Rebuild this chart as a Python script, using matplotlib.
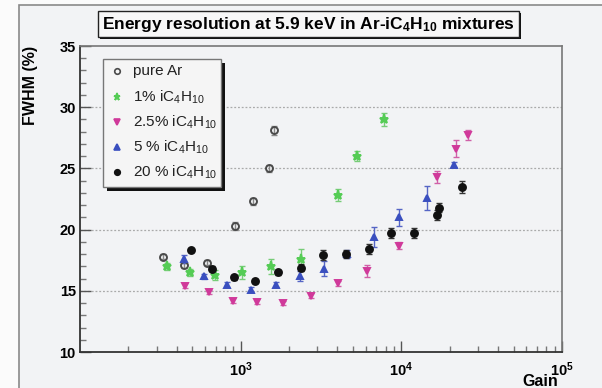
import numpy as np
import matplotlib.pyplot as plt
from matplotlib.patches import Rectangle
from matplotlib.ticker import FixedLocator, NullFormatter, MultipleLocator

plt.rcParams['font.family'] = ['Liberation Sans', 'DejaVu Sans']
plt.rcParams['mathtext.fontset'] = 'custom'
plt.rcParams['mathtext.rm'] = 'Liberation Sans'
plt.rcParams['mathtext.bf'] = 'Liberation Sans:bold'
plt.rcParams['mathtext.default'] = 'regular'

# pure Ar
ar_gain = [328, 445, 615, 918, 1187, 1493, 1603]
ar_fwhm = [17.8, 17.1, 17.3, 20.3, 22.3, 25.0, 28.1]
ar_err = [0.2, 0.2, 0.2, 0.3, 0.3, 0.3, 0.4]

# 1% iC4H10
g1_gain = [347, 484, 692, 1024, 1536, 2359, 4045, 5309, 7772]
g1_fwhm = [17.0, 16.5, 16.3, 16.5, 17.0, 17.6, 22.8, 26.0, 29.0]
g1_err = [0.3, 0.3, 0.4, 0.5, 0.6, 0.8, 0.5, 0.4, 0.5]

# 2.5% iC4H10
g25_gain = [449, 635, 901, 1270, 1841, 2723, 4024, 6127, 9718, 16680, 21980, 26180]
g25_fwhm = [15.4, 14.9, 14.2, 14.1, 14.0, 14.6, 15.6, 16.6, 18.7, 24.3, 26.6, 27.7]
g25_err = [0.2, 0.2, 0.2, 0.2, 0.2, 0.2, 0.2, 0.5, 0.3, 0.5, 0.7, 0.4]

# 5% iC4H10
g5_gain = [441, 592, 826, 1165, 1650, 2325, 3290, 4604, 6730, 9718, 14450, 21420]
g5_fwhm = [17.6, 16.2, 15.5, 15.1, 15.5, 16.2, 16.8, 18.0, 19.4, 21.0, 22.6, 25.3]
g5_err = [0.3, 0.2, 0.2, 0.2, 0.2, 0.4, 0.6, 0.3, 0.8, 0.7, 1.0, 0.2]

# 20% iC4H10
g20_gain = [489, 667, 909, 1227, 1705, 2359, 3262, 4535, 6267, 8629, 12050, 16680, 17060, 23830]
g20_fwhm = [18.3, 16.8, 16.1, 15.8, 16.5, 16.9, 17.9, 18.0, 18.4, 19.7, 19.7, 21.2, 21.8, 23.5]
g20_err = [0.1, 0.2, 0.2, 0.2, 0.2, 0.3, 0.4, 0.3, 0.4, 0.4, 0.4, 0.4, 0.4, 0.5]

W, H = 602, 388
bg = '#f2f3f5'
fig = plt.figure(figsize=(W / 100, H / 100), dpi=100, facecolor='#fbfbfb')

# canvas frame (behind everything)
fig.patches.append(Rectangle((18.5 / W, -0.1), 1.2, 1 - 5 / H + 0.1,
                             transform=fig.transFigure, facecolor=bg,
                             edgecolor='#8a8a8a', linewidth=1.2, zorder=-10))

ax = fig.add_axes([80 / W, 1 - 352 / H, (562 - 80) / W, (352 - 46) / H])
ax.set_facecolor(bg)
ax.set_xscale('log')
ax.set_xlim(100, 1e5)
ax.set_ylim(10, 35)

series = [
    (ar_gain, ar_fwhm, ar_err, 'o', 'none', '#4a4a4a', '#888888', 5.0, 'pure Ar'),
    (g1_gain, g1_fwhm, g1_err, '*', '#55cc55', '#55cc55', '#77cc77', 6.5, '1% iC$_4$H$_{10}$'),
    (g25_gain, g25_fwhm, g25_err, 'v', '#d0399a', '#d0399a', '#d060a8', 5.0, '2.5% iC$_4$H$_{10}$'),
    (g5_gain, g5_fwhm, g5_err, '^', '#3a4fbf', '#3a4fbf', '#5565c5', 5.0, '5 % iC$_4$H$_{10}$'),
    (g20_gain, g20_fwhm, g20_err, 'o', '#111111', '#111111', '#333333', 5.0, '20 % iC$_4$H$_{10}$'),
]
for gx, gy, ge, m, fc, ec, errc, ms, lab in series:
    ax.errorbar(gx, gy, yerr=ge, fmt='none', ecolor=errc, elinewidth=1.0,
                capsize=2.2, capthick=1.0, zorder=3)
    ax.plot(gx, gy, linestyle='none', marker=m, markersize=ms,
            markerfacecolor=fc, markeredgecolor=ec, markeredgewidth=1.4,
            label=lab, zorder=4)

# grid
for yv in [15, 20, 25, 30]:
    ax.axhline(yv, color='#aaaaaa', linestyle=(0, (1.5, 1.5)), linewidth=0.9, zorder=1)

for side in ['left', 'bottom']:
    ax.spines[side].set_color('#333333')
    ax.spines[side].set_linewidth(1.3)
for side in ['right', 'top']:
    ax.spines[side].set_color('#777777')
    ax.spines[side].set_linewidth(1.2)

ax.yaxis.set_minor_locator(MultipleLocator(1))
ax.set_yticks([10, 15, 20, 25, 30, 35])
ax.set_yticklabels(['10', '15', '20', '25', '30', '35'], fontweight='bold', fontsize=10.5)
ax.set_xticks([1e3, 1e4, 1e5])
ax.set_xticklabels([r'$\mathbf{10^{3}}$', r'$\mathbf{10^{4}}$', r'$\mathbf{10^{5}}$'], fontsize=10.5)
minor = [k * 10 ** d for d in [2, 3, 4] for k in range(2, 10)]
ax.xaxis.set_minor_locator(FixedLocator(minor))
ax.xaxis.set_minor_formatter(NullFormatter())
ax.tick_params(axis='both', which='major', direction='in', length=8, width=1, color='#555555', pad=3)
ax.tick_params(axis='both', which='minor', direction='in', length=4, width=1, color='#777777')
ax.tick_params(axis='x', which='major', pad=6)
ax.tick_params(top=False, right=False, which='both')

fig.text(30 / W, 1 - 85 / H, 'FWHM (%)', rotation=90, ha='center', va='center',
         fontsize=11.5, fontweight='bold')
fig.text(558 / W, 1 - 381 / H, 'Gain', ha='right', va='center',
         fontsize=11.5, fontweight='bold')

# title box with shadow
fig.patches.append(Rectangle((100 / W, 1 - 39 / H), 421 / W, 26 / H,
                             transform=fig.transFigure, facecolor='#111111',
                             edgecolor='none', zorder=5))
fig.patches.append(Rectangle((98 / W, 1 - 37 / H), 421 / W, 26 / H,
                             transform=fig.transFigure, facecolor='#f7f7f7',
                             edgecolor='#222222', linewidth=1.0, zorder=6))
fig.text(308 / W, 1 - 24 / H,
         r'Energy resolution at 5.9 keV in Ar-iC$_\mathbf{4}$H$_\mathbf{10}$ mixtures',
         ha='center', va='center', fontsize=12.5, fontweight='bold', zorder=7)

# legend box with shadow
ax.add_patch(Rectangle((107 / W, 1 - 191 / H), 118 / W, 128 / H,
                       transform=fig.transFigure, facecolor='#111111',
                       edgecolor='none', zorder=5, clip_on=False))
ax.add_patch(Rectangle((103 / W, 1 - 187 / H), 118 / W, 128 / H,
                       transform=fig.transFigure, facecolor='#f5f5f5',
                       edgecolor='#777777', linewidth=1.0, zorder=6, clip_on=False))
leg_y = [71, 97, 122, 147, 172]
for yy, (gx, gy, ge, m, fc, ec, errc, ms, lab) in zip(leg_y, series):
    ax.plot([117 / W], [1 - yy / H], transform=fig.transFigure, marker=m,
            markersize=ms * 0.8, markerfacecolor=fc, markeredgecolor=ec,
            markeredgewidth=1.2, linestyle='none', zorder=7, clip_on=False)
    fig.text(133 / W, 1 - yy / H, lab, ha='left', va='center', fontsize=11,
             color='#222222', zorder=8)

fig.savefig('out.png', dpi=100, facecolor=fig.get_facecolor())
